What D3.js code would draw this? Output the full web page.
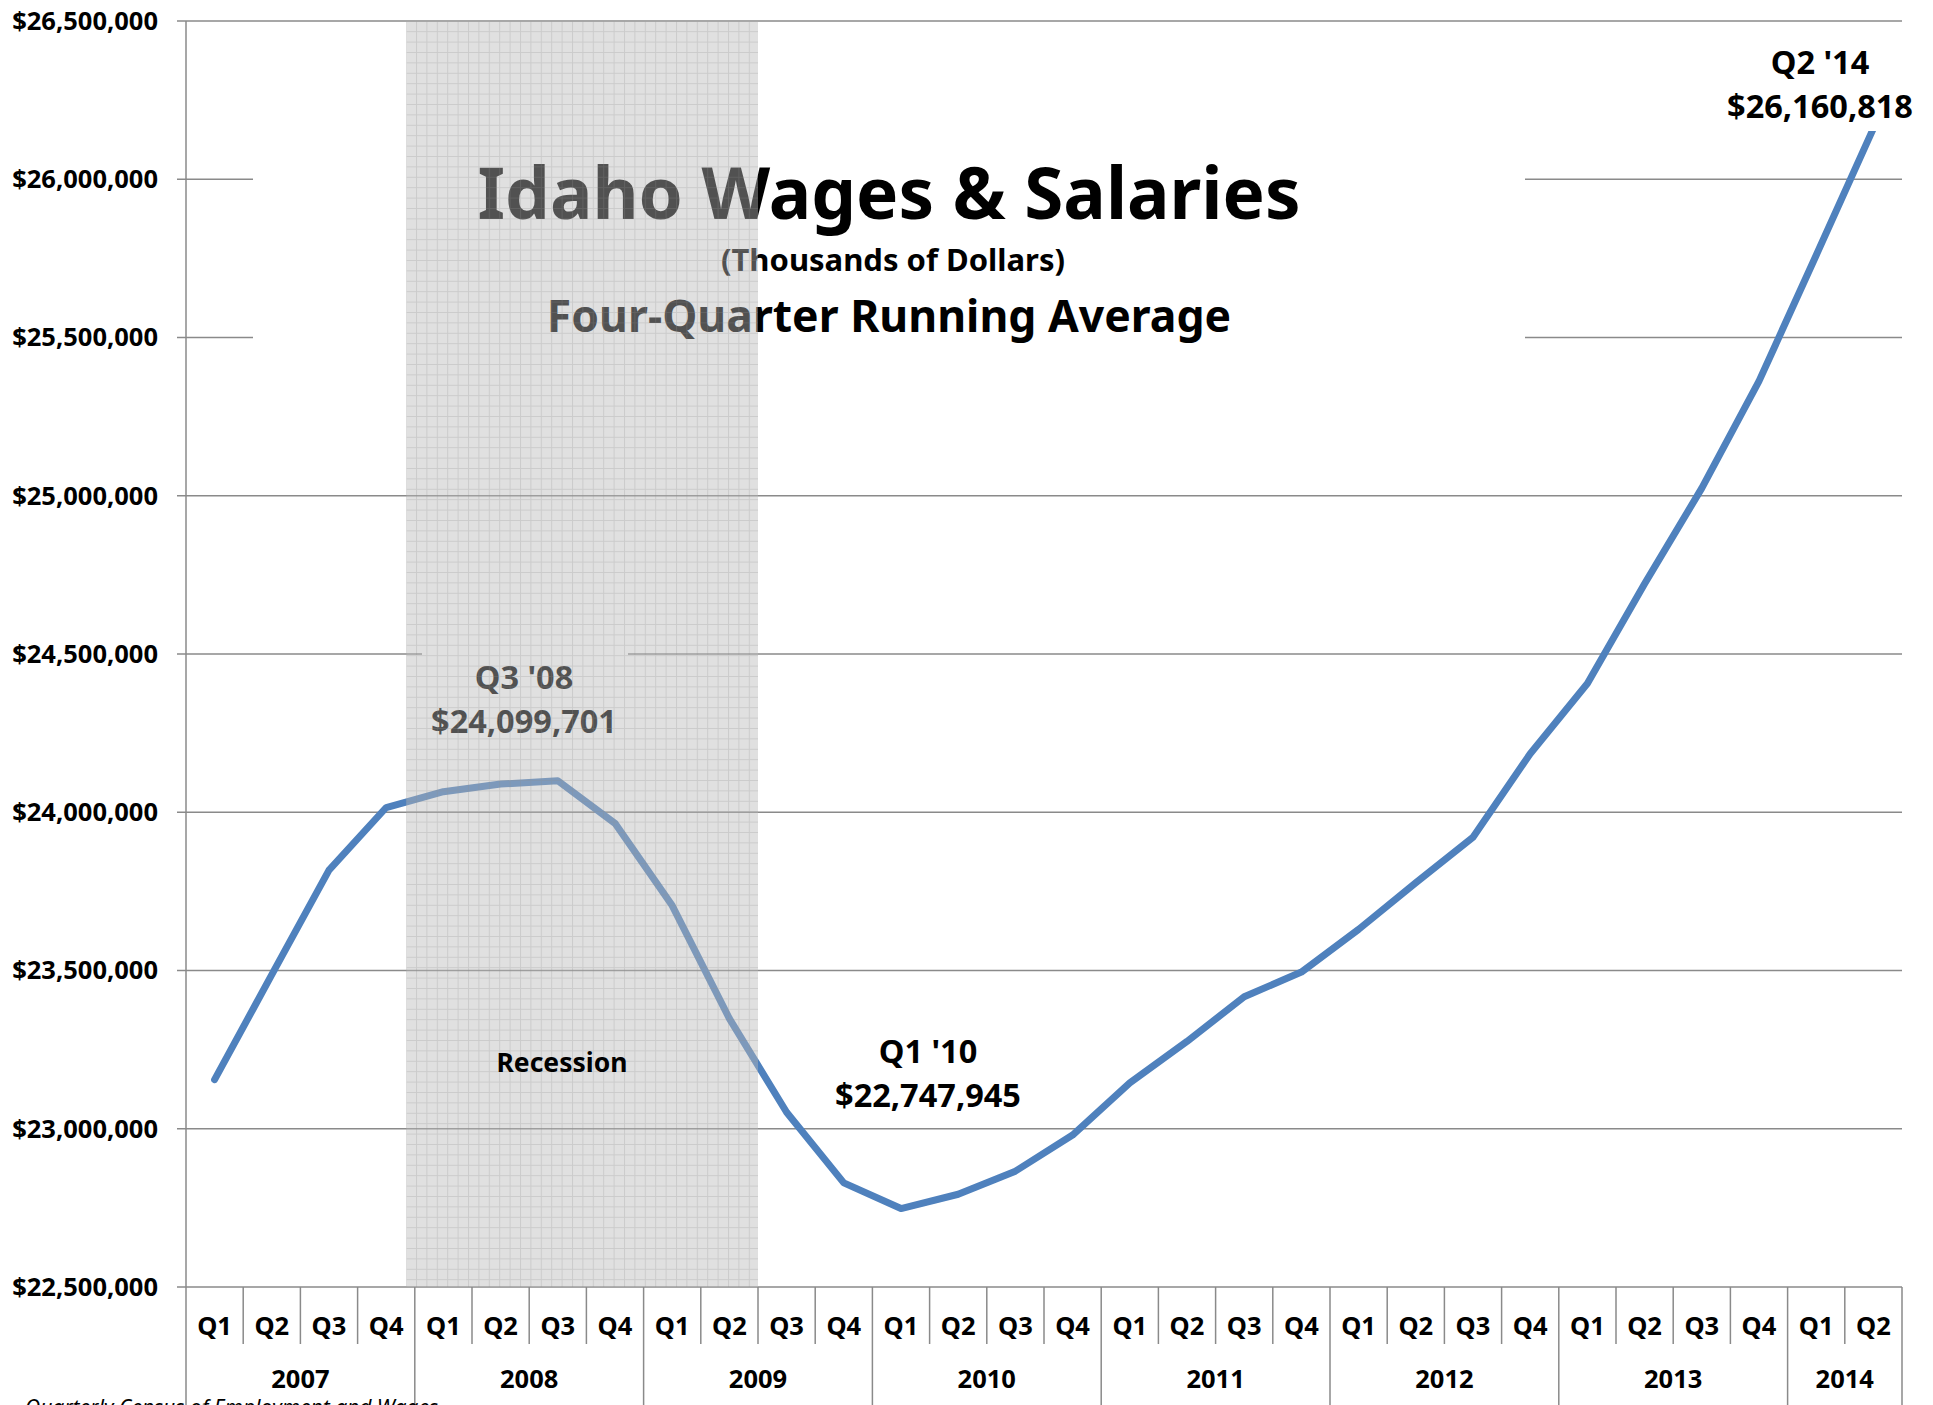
<!DOCTYPE html>
<html>
<head>
<meta charset="utf-8">
<script src="https://cdn.jsdelivr.net/npm/d3@7"></script>
<style>
  html, body { margin: 0; padding: 0; background: #fff; overflow: hidden; }
  svg { display: block; font-family: "Noto Sans", "Open Sans", sans-serif; }
</style>
</head>
<body>
<div id="chart"></div>
<script>
const width = 1933
const height = 1405

// data (thousands of dollars, four-quarter running average)
const years = ["2007", "2008", "2009", "2010", "2011", "2012", "2013", "2014"]
const quartersPerYear = [4, 4, 4, 4, 4, 4, 4, 2]
const quarterNames = ["Q1", "Q2", "Q3", "Q4"]
const wages = [
  23155000, 23487000, 23817000, 24015000,
  24065000, 24089000, 24099701, 23965000,
  23705000, 23348000, 23052000, 22829000,
  22747945, 22793000, 22866000, 22980000,
  23145000, 23276000, 23417000, 23495000,
  23630000, 23777000, 23921000, 24185000,
  24407000, 24722000, 25024000, 25362000,
  25760000, 26160818
]
const yTicks = [22500000, 23000000, 23500000, 24000000, 24500000, 25000000, 25500000, 26000000, 26500000]
// recession span in quarter units from Q1 2007 (Dec 2007 - Jun 2009)
const recession = [3.85, 10]
const callouts = [
  { index: 6, name: "Q3 '08", x: 524, y: 689 },
  { index: 12, name: "Q1 '10", x: 928, y: 1063 },
  { index: 29, name: "Q2 '14", x: 1820, y: 74 }
]

const plotLeft = 186, plotRight = 1902, plotTop = 21, plotBottom = 1287
const gridColor = "#8a8a8a"

const quarters = []
years.forEach((yr, yi) => {
  for (let q = 0; q < quartersPerYear[yi]; q++) quarters.push({ year: yr, q: quarterNames[q], yi })
})
const n = quarters.length

const x = d3.scaleLinear().domain([0, n]).range([plotLeft, plotRight])
const y = d3.scaleLinear().domain([22500000, 26500000]).range([plotBottom, plotTop])
const fmt = d3.format("$,")

const svg = d3.select("#chart").append("svg")
    .attr("width", width)
    .attr("height", height)

const defs = svg.append("defs")
const pat = defs.append("pattern")
    .attr("id", "grid")
    .attr("width", 10.4)
    .attr("height", 10.4)
    .attr("patternUnits", "userSpaceOnUse")
pat.append("rect").attr("width", 10.4).attr("height", 10.4).attr("fill", "rgb(184,184,184)").attr("fill-opacity", 0.44)
pat.append("path")
    .attr("d", "M0 0.5H10.4M0.5 0V10.4")
    .attr("stroke", "#8c8c8c")
    .attr("stroke-opacity", 0.25)
    .attr("stroke-width", 1)

// gridlines with ticks
svg.append("g")
    .selectAll("line")
    .data(yTicks)
    .join("line")
    .attr("x1", plotLeft - 9)
    .attr("x2", plotRight)
    .attr("y1", d => y(d))
    .attr("y2", d => y(d))
    .attr("stroke", gridColor)
    .attr("stroke-width", 1.5)

svg.append("g")
    .attr("font-size", 25.5)
    .attr("font-weight", "bold")
    .attr("text-anchor", "end")
    .selectAll("text")
    .data(yTicks)
    .join("text")
    .attr("x", 158)
    .attr("y", d => y(d))
    .attr("dy", "0.35em")
    .text(d => fmt(d))

// y axis line
svg.append("line")
    .attr("x1", plotLeft).attr("x2", plotLeft)
    .attr("y1", plotTop).attr("y2", height)
    .attr("stroke", gridColor).attr("stroke-width", 1.5)

// category axis separators
const seps = d3.range(1, n + 1)
const yearStarts = new Set()
let acc = 0
quartersPerYear.forEach(c => { acc += c; yearStarts.add(acc) })
svg.append("g")
    .selectAll("line")
    .data(seps)
    .join("line")
    .attr("x1", d => x(d)).attr("x2", d => x(d))
    .attr("y1", plotBottom)
    .attr("y2", d => yearStarts.has(d) ? height : 1344)
    .attr("stroke", gridColor)
    .attr("stroke-width", 1.5)

svg.append("g")
    .attr("font-size", 25.5)
    .attr("font-weight", "bold")
    .attr("text-anchor", "middle")
    .selectAll("text")
    .data(quarters)
    .join("text")
    .attr("x", (d, i) => x(i + 0.5))
    .attr("y", 1326)
    .attr("dy", "0.35em")
    .text(d => d.q)

let start = 0
const yearPos = years.map((yr, i) => {
  const c = start + quartersPerYear[i] / 2
  start += quartersPerYear[i]
  return { yr, c }
})
svg.append("g")
    .attr("font-size", 25.5)
    .attr("font-weight", "bold")
    .attr("text-anchor", "middle")
    .selectAll("text")
    .data(yearPos)
    .join("text")
    .attr("x", d => x(d.c))
    .attr("y", 1379)
    .attr("dy", "0.35em")
    .text(d => d.yr)

// title block (white box hides gridlines)
svg.append("rect")
    .attr("x", 253).attr("y", 95).attr("width", 1272).attr("height", 260)
    .attr("fill", "#fff")
const title = svg.append("g").attr("text-anchor", "middle").attr("font-weight", "bold")
title.append("text").attr("x", 889).attr("y", 219).attr("font-size", 71).text("Idaho Wages & Salaries")
title.append("text").attr("x", 893).attr("y", 271).attr("font-size", 31).text("(Thousands of Dollars)")
title.append("text").attr("x", 889).attr("y", 332).attr("font-size", 44.5).text("Four-Quarter Running Average")

// the series
const line = d3.line()
    .x((d, i) => x(i + 0.5))
    .y(d => y(d))

svg.append("path")
    .datum(wages)
    .attr("fill", "none")
    .attr("stroke", "#4F81BD")
    .attr("stroke-width", 7)
    .attr("stroke-linejoin", "round")
    .attr("stroke-linecap", "round")
    .attr("d", line)

// callout labels
const boxes = { 6: [422, 640, 206, 105], 29: [1722, 30, 200, 101] }
const cg = svg.append("g").attr("text-anchor", "middle").attr("font-weight", "bold").attr("font-size", 32.5)
callouts.forEach(c => {
  if (boxes[c.index]) {
    const b = boxes[c.index]
    cg.append("rect").attr("x", b[0]).attr("y", b[1]).attr("width", b[2]).attr("height", b[3]).attr("fill", "#fff")
  }
  cg.append("text").attr("x", c.x).attr("y", c.y).text(c.name)
  cg.append("text").attr("x", c.x).attr("y", c.y + 44).text(fmt(wages[c.index]))
})

// recession shading on top
svg.append("rect")
    .attr("x", x(recession[0]))
    .attr("y", plotTop)
    .attr("width", x(recession[1]) - x(recession[0]))
    .attr("height", plotBottom - plotTop)
    .attr("fill", "url(#grid)")

svg.append("text")
    .attr("x", 562)
    .attr("y", 1072)
    .attr("text-anchor", "middle")
    .attr("font-weight", "bold")
    .attr("font-size", 26.5)
    .text("Recession")

// source line, cut off by the page edge
svg.append("text")
    .attr("x", 25)
    .attr("y", 1415)
    .attr("font-style", "italic")
    .attr("font-size", 21)
    .text("Quarterly Census of Employment and Wages")
</script>
</body>
</html>
